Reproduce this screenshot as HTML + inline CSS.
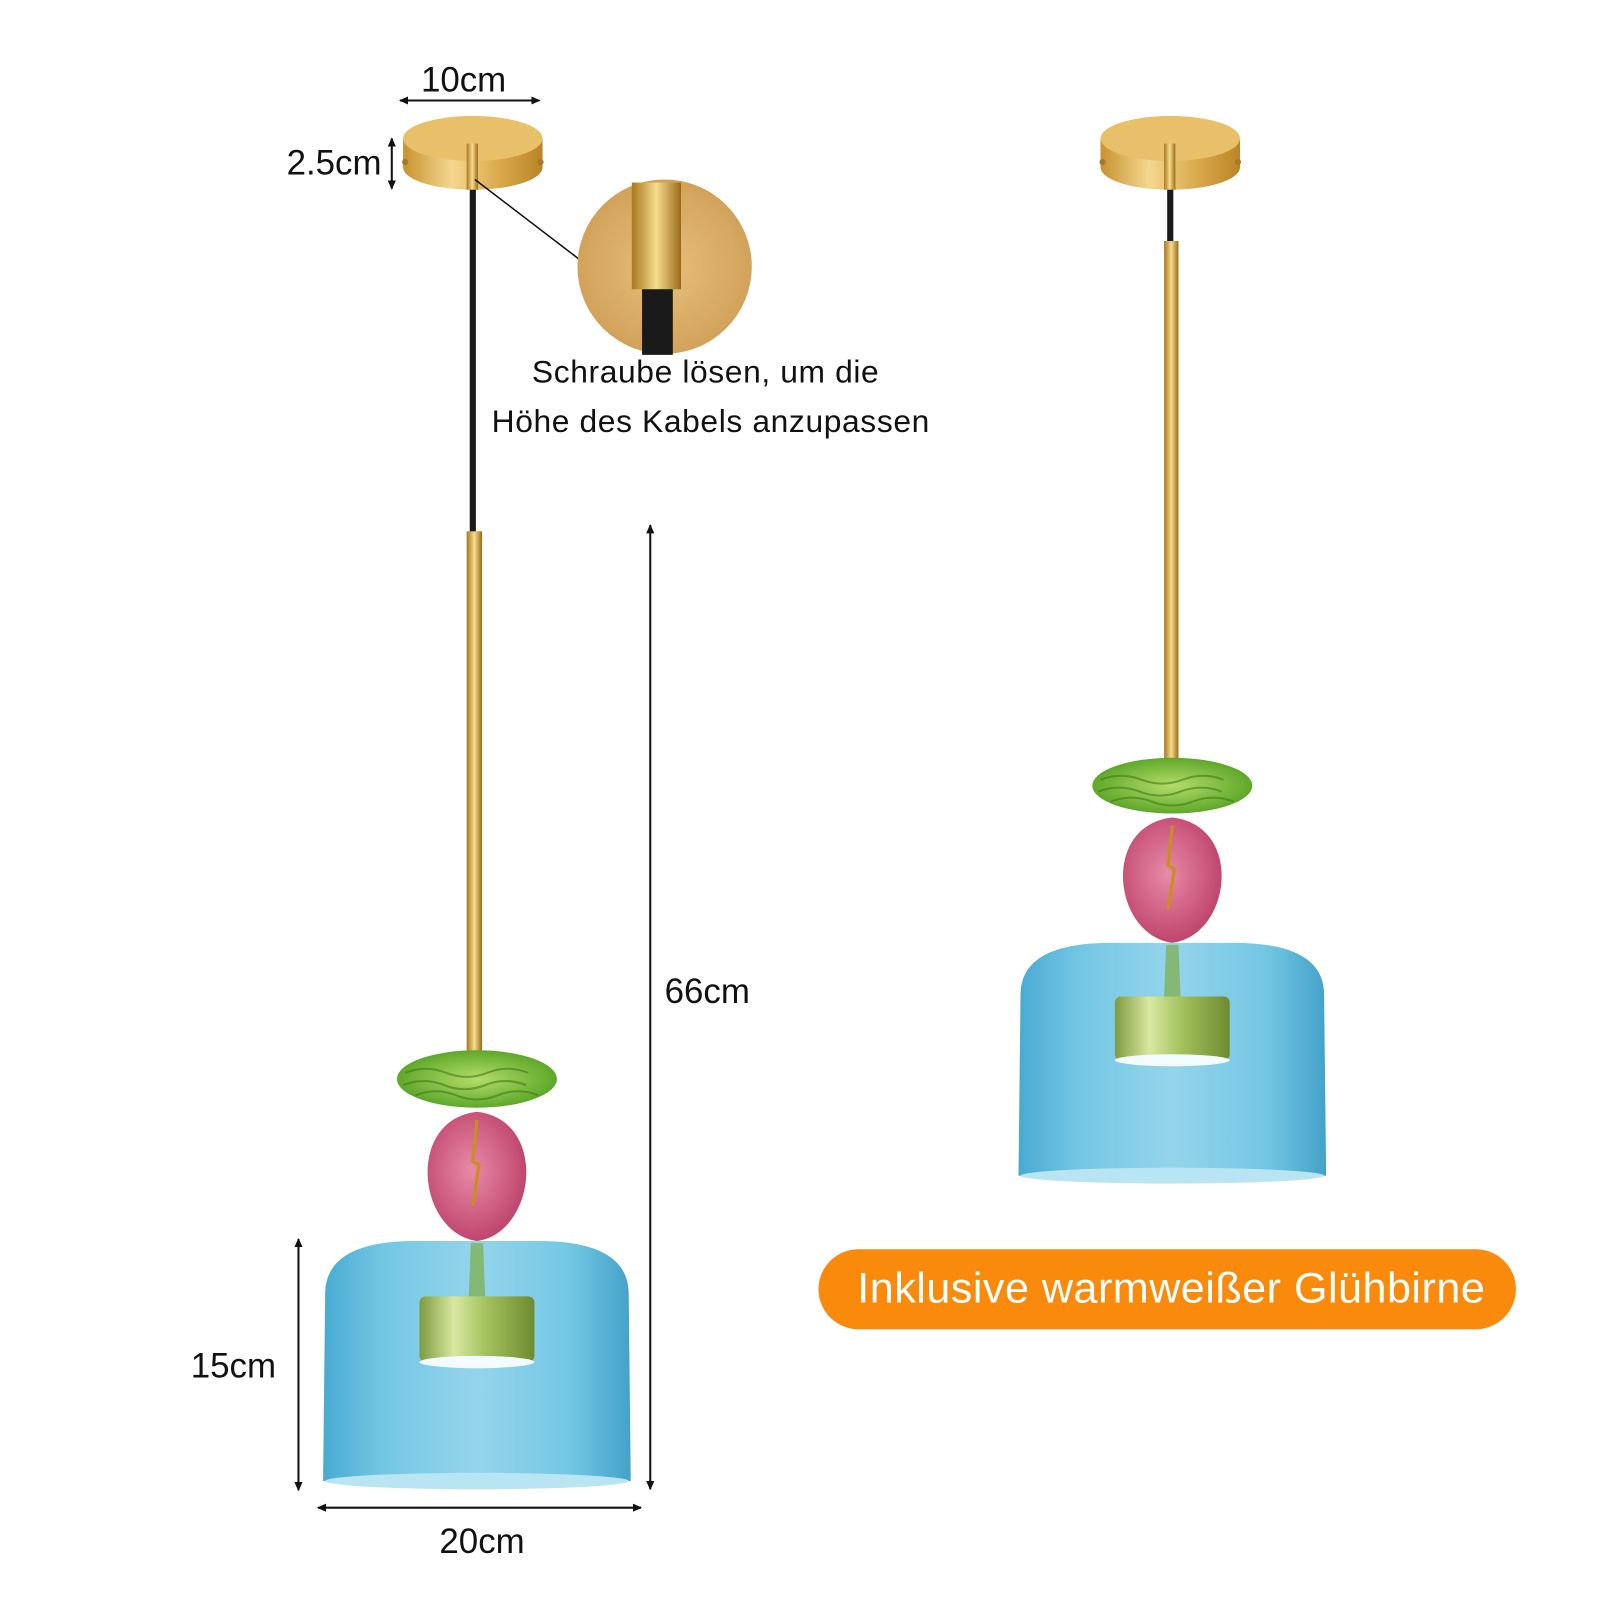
<!DOCTYPE html>
<html><head><meta charset="utf-8"><style>
html,body{margin:0;padding:0;background:#fff;width:1600px;height:1600px;overflow:hidden}
svg{display:block}
text{font-family:"Liberation Sans",sans-serif;fill:#111}
</style></head><body>
<svg width="1600" height="1600" viewBox="0 0 1560 1560" xmlns="http://www.w3.org/2000/svg">
<defs>
<linearGradient id="gold" x1="0" x2="1" y1="0" y2="0">
<stop offset="0" stop-color="#c8922e"/><stop offset="0.35" stop-color="#f3d790"/><stop offset="0.7" stop-color="#d9a84a"/><stop offset="1" stop-color="#b98426"/></linearGradient>
<linearGradient id="rod" x1="0" x2="1"><stop offset="0" stop-color="#a8761c"/><stop offset="0.5" stop-color="#f6dc8e"/><stop offset="1" stop-color="#9a6a16"/></linearGradient>
<radialGradient id="zoomc" cx="0.5" cy="0.5" r="0.5"><stop offset="0" stop-color="#e6c07c"/><stop offset="1" stop-color="#d2a25a"/></radialGradient>
<linearGradient id="blue" x1="0" x2="1"><stop offset="0" stop-color="#3fa6cf"/><stop offset="0.2" stop-color="#6cc4e2"/><stop offset="0.5" stop-color="#8fd2ea"/><stop offset="0.8" stop-color="#6cc4e2"/><stop offset="1" stop-color="#3a9dc6"/></linearGradient>
<linearGradient id="ring" x1="0" x2="1"><stop offset="0" stop-color="#7f9a3e"/><stop offset="0.3" stop-color="#d8e8a0"/><stop offset="0.6" stop-color="#9fbf5a"/><stop offset="1" stop-color="#6e8a30"/></linearGradient>
<radialGradient id="green" cx="0.5" cy="0.5" r="0.5"><stop offset="0" stop-color="#b6dc6a"/><stop offset="1" stop-color="#5ea82a"/></radialGradient>
<radialGradient id="pink" cx="0.45" cy="0.45" r="0.55"><stop offset="0" stop-color="#e88aa6"/><stop offset="1" stop-color="#c0466e"/></radialGradient>
<marker id="ar" markerWidth="10" markerHeight="10" refX="8" refY="5" orient="auto-start-reverse" markerUnits="userSpaceOnUse"><path d="M0,1 L9,5 L0,9 Z" fill="#111"/></marker>
<g id="lamp">
<path d="M-68,22 L-68,50 A68,22 0 0 0 68,50 L68,22 Z" fill="url(#gold)"/>
<ellipse cx="0" cy="22" rx="68" ry="22" fill="#e8c06a"/>
<circle cx="-66" cy="45" r="3" fill="#a7772a"/><circle cx="66" cy="45" r="3" fill="#a7772a"/>
</g>
<g id="shade">
<ellipse cx="0" cy="0" rx="78" ry="28" fill="url(#green)"/>
<path d="M-70,-6 q20,-8 40,0 t40,0 t40,0 M-72,6 q20,-8 40,0 t40,0 t40,0 M-60,16 q20,-8 40,0 t40,0 t40,0" stroke="#3f7a1c" stroke-width="2" fill="none" opacity="0.6"/>
<path d="M0,32 C-70,40 -58,150 0,158 C58,150 70,40 0,32 Z" fill="url(#pink)"/>
<path d="M0,40 l-4,40 l6,4 l-6,40" stroke="#c8901a" stroke-width="3" fill="none"/>
<path d="M-148,210 Q-148,158 -60,158 L60,158 Q148,158 148,210 L150,392 Q0,404 -150,392 Z" fill="url(#blue)" opacity="0.95"/>
<ellipse cx="0" cy="392" rx="148" ry="8" fill="#b9e4f2"/>
<path d="M-6,160 L6,160 L8,212 L-8,212 Z" fill="#7fb05a" opacity="0.8"/>
<rect x="-56" y="212" width="112" height="64" rx="6" fill="url(#ring)"/>
<ellipse cx="0" cy="276" rx="56" ry="6" fill="#f4fbff"/>
</g>
</defs>

<use href="#lamp" x="461" y="113"/>
<rect x="458" y="165" width="6" height="356" fill="#1a1a1a"/>
<rect x="455" y="140" width="11" height="45" fill="url(#rod)"/>
<rect x="455" y="518" width="15" height="524" fill="url(#rod)"/>
<use href="#shade" x="465" y="1052"/>

<line x1="463" y1="175" x2="565" y2="253" stroke="#111" stroke-width="1.5"/>
<circle cx="648" cy="260" r="85" fill="url(#zoomc)"/>
<rect x="616" y="178" width="48" height="104" fill="url(#rod)"/>
<rect x="626" y="282" width="30" height="64" fill="#1a1a1a"/>
<text x="688" y="373" font-size="31" letter-spacing="0.6" text-anchor="middle">Schraube lösen, um die</text>
<text x="693" y="421" font-size="31" letter-spacing="0.6" text-anchor="middle">Höhe des Kabels anzupassen</text>

<line x1="390" y1="98" x2="526" y2="98" stroke="#111" stroke-width="2" marker-start="url(#ar)" marker-end="url(#ar)"/>
<text x="452" y="89" font-size="34" text-anchor="middle">10cm</text>
<line x1="382" y1="135" x2="382" y2="184" stroke="#111" stroke-width="2" marker-start="url(#ar)" marker-end="url(#ar)"/>
<text x="372" y="170" font-size="34" text-anchor="end">2.5cm</text>
<line x1="634" y1="512" x2="634" y2="1452" stroke="#111" stroke-width="2" marker-start="url(#ar)" marker-end="url(#ar)"/>
<text x="648" y="978" font-size="34">66cm</text>
<line x1="291" y1="1208" x2="291" y2="1453" stroke="#111" stroke-width="2" marker-start="url(#ar)" marker-end="url(#ar)"/>
<text x="186" y="1343" font-size="34">15cm</text>
<line x1="310" y1="1470" x2="625" y2="1470" stroke="#111" stroke-width="2" marker-start="url(#ar)" marker-end="url(#ar)"/>
<text x="470" y="1514" font-size="34" text-anchor="middle">20cm</text>

<use href="#lamp" x="1141" y="113"/>
<rect x="1138" y="165" width="6" height="72" fill="#1a1a1a"/>
<rect x="1135" y="140" width="11" height="45" fill="url(#rod)"/>
<rect x="1135" y="235" width="14" height="506" fill="url(#rod)"/>
<g transform="translate(1143,766) scale(1,0.97)"><use href="#shade"/></g>

<rect x="798" y="1218" width="680" height="78" rx="39" fill="#f98a0c"/>
<text x="1142" y="1270" font-size="42" text-anchor="middle" letter-spacing="0.5" style="fill:#fff">Inklusive warmweißer Glühbirne</text>
</svg>
</body></html>
